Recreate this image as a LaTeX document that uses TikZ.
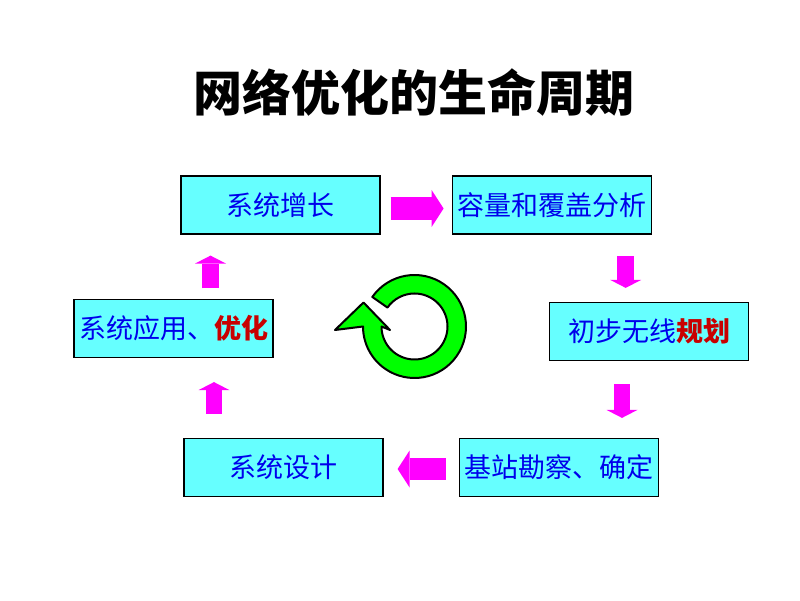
\documentclass[tikz,border=0pt]{standalone}
\usepackage{fontspec}
\newfontfamily\cjk{Noto Sans CJK SC}
\usetikzlibrary{arrows.meta,positioning}
\definecolor{boxcyan}{RGB}{102,255,255}
\definecolor{pink}{RGB}{255,0,255}
\definecolor{txtblue}{RGB}{0,0,235}
\definecolor{txtred}{RGB}{200,0,0}
\definecolor{ringgreen}{RGB}{0,255,0}
\newcommand\redpart[1]{{\color{txtred}\bfseries #1}}

\begin{document}
\begin{tikzpicture}[x=1pt,y=1pt,semithick]
\tikzstyle{stage}=[draw=black,fill=boxcyan,line width=1.2pt,minimum width=199pt,minimum height=58pt,inner sep=0pt,text=txtblue,font=\cjk\fontsize{27}{32}\selectfont]
\tikzstyle{hblk}=[draw=pink,line width=22.5pt,-{Triangle[width=37pt,length=12pt,line width=0pt]}]
\tikzstyle{vblk}=[draw=pink,line width=16.5pt,-{Triangle[width=31pt,length=8pt,line width=0pt]}]
\useasboundingbox (0,0) rectangle (800,600);
\node[font=\cjk\bfseries\fontsize{49}{58}\selectfont] (title) at (414,507.5) {网络优化的生命周期};
\node[stage] (grow) at (280.5,395) {系统增长};
\node[stage] (cover) [right=71.5pt of grow] {容量和覆盖分析};
\node[stage] (plan) at (649,268.5) {初步无线\redpart{规划}};
\node[stage] (design) at (283.5,132.5) {系统设计};
\node[stage] (site) [right=75pt of design] {基站勘察、确定};
\node[stage] (apply) at (173.5,271.5) {系统应用、\redpart{优化}};
% block arrows round the cycle
\draw[hblk,shorten <=10pt,shorten >=8.5pt] ([yshift=-3.5pt]grow.east) -- ([yshift=-3.5pt]cover.west);
\draw[vblk,shorten <=21.7pt,shorten >=14pt] ([xshift=73.5pt]cover.south) -- ([xshift=73.5pt]cover.south |- plan.north);
\draw[vblk,shorten <=23pt,shorten >=20pt] ([xshift=-27pt]plan.south) -- ([xshift=-27pt]plan.south |- site.north);
\draw[hblk,shorten <=13pt,shorten >=14pt] ([yshift=-1.5pt]site.west) -- ([yshift=-1.5pt]design.east);
\draw[vblk,shorten <=24pt,shorten >=24pt] ([xshift=-69.5pt]design.north) -- ([xshift=-69.5pt]design.north |- apply.south);
\draw[vblk,shorten <=10.5pt,shorten >=21pt] ([xshift=37pt]apply.north) -- ([xshift=37pt]apply.north |- grow.south);
% green ring arrow
\begin{scope}[shift={(414.5,273.5)}]
\filldraw[fill=ringgreen,draw=black,line width=2pt,line join=round] (145:51.5) arc[start angle=145,end angle=-180,radius=51.5]
  -- (-79.5,-3.5) -- (-51,24) -- (-24.5,-3.5) -- (-33,0) arc[start angle=-180,end angle=145,radius=33] -- cycle;
\end{scope}
\end{tikzpicture}
\end{document}
